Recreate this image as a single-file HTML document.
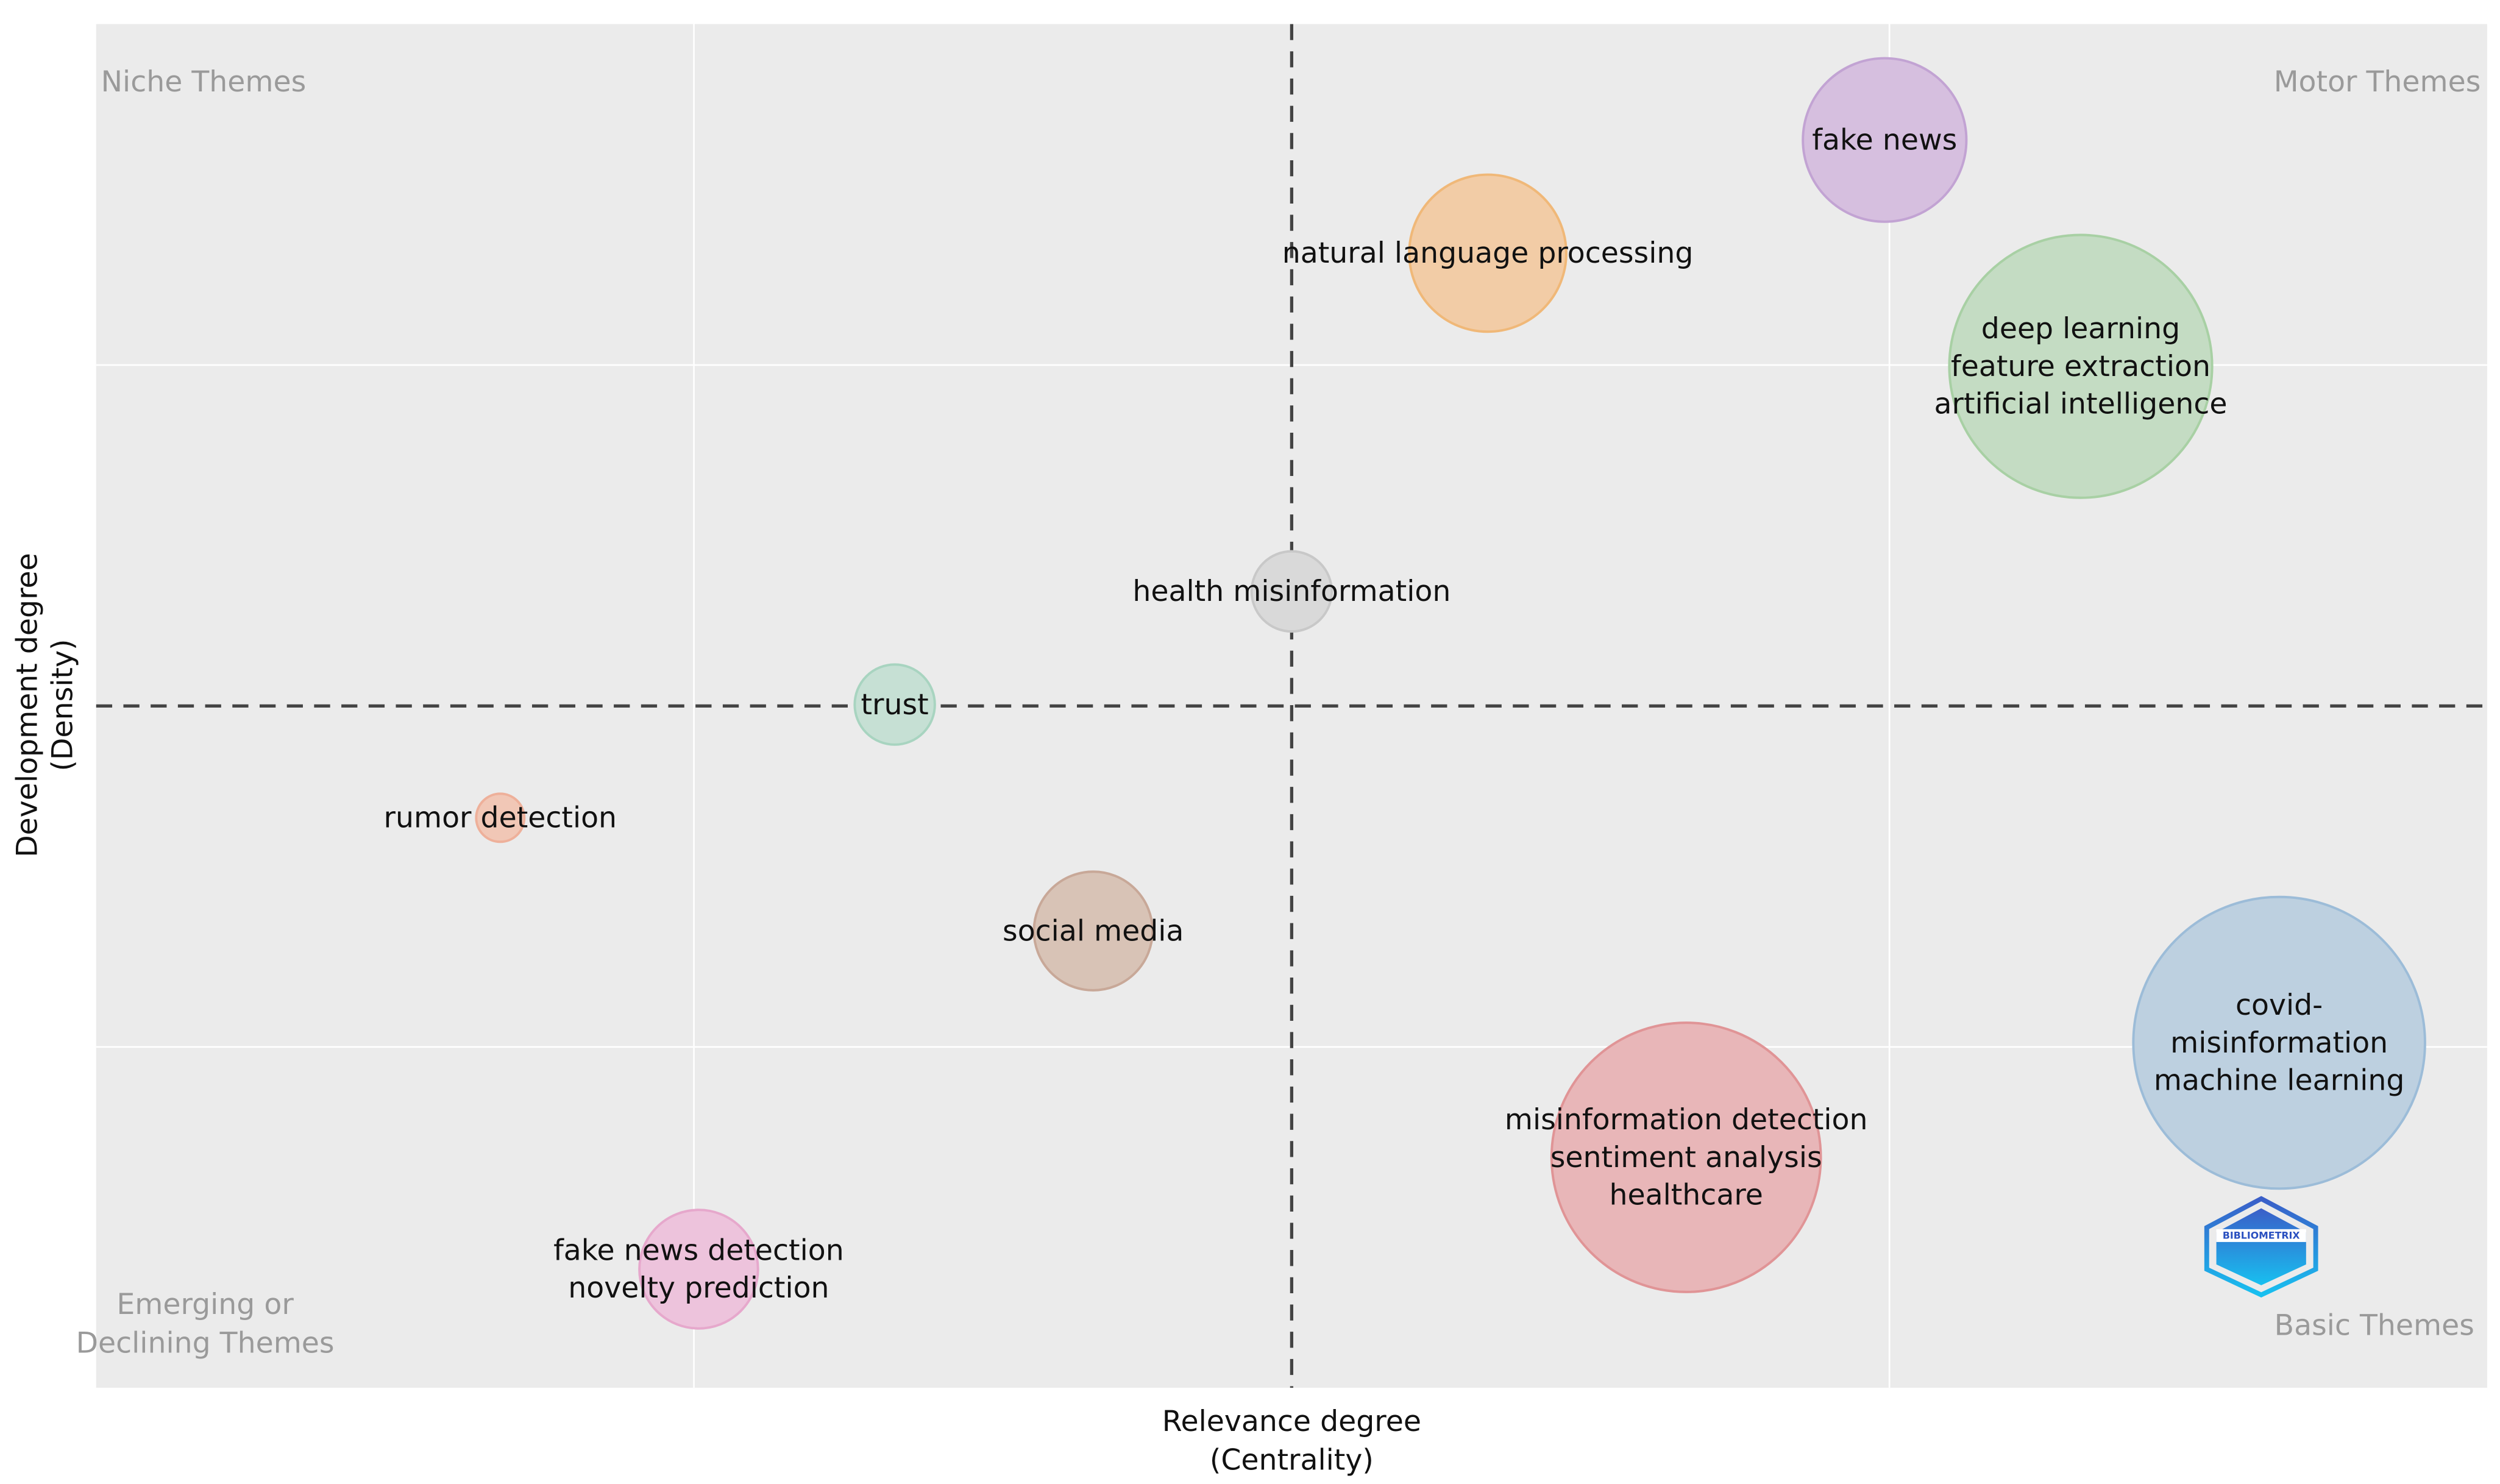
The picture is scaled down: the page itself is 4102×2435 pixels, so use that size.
<!DOCTYPE html>
<html><head><meta charset="utf-8"><style>
html,body{margin:0;padding:0;background:#fff;}
svg{display:block;}
text{font-family:"DejaVu Sans","Liberation Sans",sans-serif;}
</style></head><body>
<svg id="chart" width="4102" height="2435" viewBox="0 0 1560 926" xmlns="http://www.w3.org/2000/svg">
<rect x="0" y="0" width="1560" height="926" fill="#fff"/>
<rect x="60" y="15" width="1492" height="851" fill="#ebebeb"/>
<g id="grid"></g>
<g id="quad"></g>
<g id="bubbles"></g>
<g id="labels"></g>
<text x="63" y="57" font-size="18" fill="#9a9a9a">Niche Themes</text>
<text x="1548" y="57" font-size="18" fill="#9a9a9a" text-anchor="end">Motor Themes</text>
<text font-size="18" fill="#9a9a9a" text-anchor="middle"><tspan x="128" y="820">Emerging or</tspan><tspan x="128" y="844">Declining Themes</tspan></text>
<text x="1544" y="833" font-size="18" fill="#9a9a9a" text-anchor="end">Basic Themes</text>
<g transform="translate(1411,778)">
<defs><linearGradient id="lg" x1="0" y1="0" x2="0" y2="1"><stop offset="0" stop-color="#3a5ec8"/><stop offset="1" stop-color="#18c0f0"/></linearGradient></defs>
<polygon points="0,-30 34,-12 34,14 0,30 -34,14 -34,-12" fill="none" stroke="url(#lg)" stroke-width="3"/>
<polygon points="0,-24 28,-9 28,11 0,24 -28,11 -28,-9" fill="url(#lg)"/>
<rect x="-28" y="-11" width="56" height="8" fill="#fff"/>
<text x="0" y="-5" font-size="6" fill="#2a50c0" text-anchor="middle" font-weight="bold">BIBLIOMETRIX</text>
</g>
<text font-size="18" fill="#111" text-anchor="middle"><tspan x="806" y="893">Relevance degree</tspan><tspan x="806" y="917">(Centrality)</tspan></text>
<text font-size="18" fill="#111" text-anchor="middle" transform="translate(23,440) rotate(-90)"><tspan x="0" y="0">Development degree</tspan><tspan x="0" y="22">(Density)</tspan></text>
</svg>
<script>
const themes = ["fake news","natural language processing","deep learning|feature extraction|artificial intelligence","health misinformation","trust","rumor detection","social media","covid-|misinformation|machine learning","misinformation detection|sentiment analysis|healthcare","fake news detection|novelty prediction"];
const centrality = [74.8,58.2,83.0,50.0,33.4,16.9,41.7,91.3,66.5,25.2];
const density = [91.5,83.2,74.9,58.4,50.1,41.8,33.5,25.3,16.9,8.7];
const sizes = [51,49,82,25,25,15,37,91,84,37];
const fills = ["#d6bfdf","#f2cca6","#c4dcc3","#d9d9d9","#c6e0d4","#f1c7b6","#d8c3b6","#bdd0e0","#e8b6b8","#edc3dc"];
const strokes = ["#c2a3d3","#f0b878","#a8d0a4","#c8c8c8","#a8d4c0","#eeb09a","#c8a898","#9cbcd8","#e09496","#e6a8cc"];
const X0=60,X1=1552,Y0=866,Y1=15;
function xs(v){return X0+v/100*(X1-X0);}
function ys(v){return Y0-v/100*(Y0-Y1);}
const NS="http://www.w3.org/2000/svg";
const grid=document.getElementById('grid');
[25,75].forEach(v=>{
  const l=document.createElementNS(NS,'line');
  
  
  l.setAttribute('x1',xs(v));l.setAttribute('x2',xs(v));l.setAttribute('y1',Y1);l.setAttribute('y2',Y0);
  l.setAttribute('stroke','#fff');l.setAttribute('stroke-width','1');grid.appendChild(l);
  const m=document.createElementNS(NS,'line');
  
  
  m.setAttribute('y1',ys(v));m.setAttribute('y2',ys(v));m.setAttribute('x1',X0);m.setAttribute('x2',X1);
  m.setAttribute('stroke','#fff');m.setAttribute('stroke-width','1');grid.appendChild(m);
});
const quad=document.getElementById('quad');
const vl=document.createElementNS(NS,'line');


vl.setAttribute('x1',xs(50));vl.setAttribute('x2',xs(50));vl.setAttribute('y1',Y1);vl.setAttribute('y2',Y0);
vl.setAttribute('stroke','#444');vl.setAttribute('stroke-width','2');vl.setAttribute('stroke-dasharray','10,7');quad.appendChild(vl);
const hl=document.createElementNS(NS,'line');


hl.setAttribute('y1',ys(50));hl.setAttribute('y2',ys(50));hl.setAttribute('x1',X0);hl.setAttribute('x2',X1);
hl.setAttribute('stroke','#444');hl.setAttribute('stroke-width','2');hl.setAttribute('stroke-dasharray','10,7');quad.appendChild(hl);
const bg=document.getElementById('bubbles'), lg=document.getElementById('labels');
themes.forEach((t,i)=>{
  const cx=xs(centrality[i]), cy=ys(density[i]);
  const c=document.createElementNS(NS,'circle');
  
  
  c.setAttribute('cx',cx);c.setAttribute('cy',cy);c.setAttribute('r',sizes[i]);
  c.setAttribute('fill',fills[i]);c.setAttribute('stroke',strokes[i]);c.setAttribute('stroke-width','1.5');
  bg.appendChild(c);
  const lines=t.split('|');
  const tx=document.createElementNS(NS,'text');
  
  
  tx.setAttribute('font-size','18');tx.setAttribute('fill','#111');tx.setAttribute('text-anchor','middle');
  const lh=23.5, start=cy-(lines.length-1)*lh/2+6;
  lines.forEach((s,j)=>{
    const sp=document.createElementNS(NS,'tspan');
    sp.setAttribute('x',cx);sp.setAttribute('y',start+j*lh);sp.textContent=s;tx.appendChild(sp);
  });
  lg.appendChild(tx);
});
</script>
</body></html>
